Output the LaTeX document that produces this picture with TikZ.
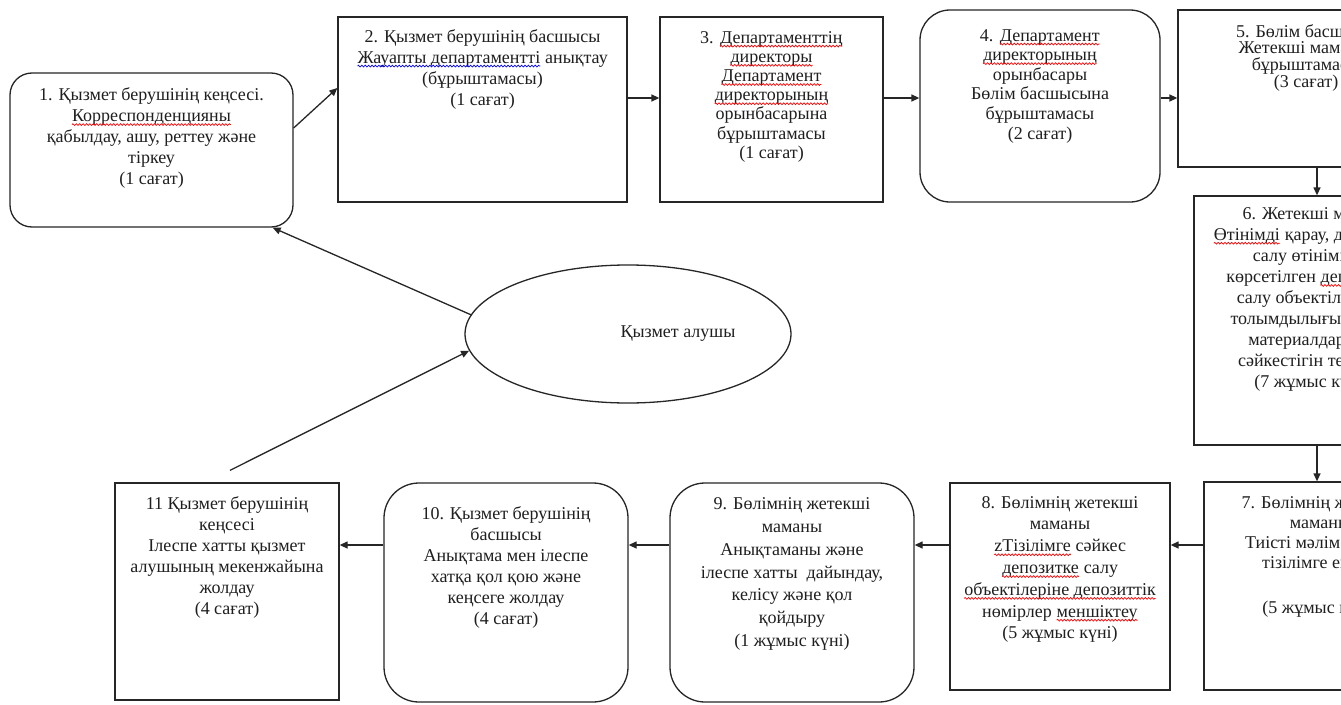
\documentclass[tikz,border=0pt]{standalone}
\usepackage{fontspec}
\setmainfont{Liberation Serif}
\usetikzlibrary{arrows.meta,shapes.geometric,calc,decorations.pathmorphing}
\newcommand\fz[1]{\fontsize{18}{#1}\selectfont}
\newcommand\sq[2]{\tikz[baseline=0pt]{\node[inner sep=0pt,outer sep=0pt,anchor=base west,draw=none,align=left] (sqw) at (0pt,0pt) {#2};\draw[#1,line width=0.7pt,decorate,decoration={zigzag,amplitude=0.9pt,segment length=3.4pt}] ([yshift=-3pt]sqw.base west) -- ([yshift=-3pt]sqw.base east);}}
\begin{document}
\begin{tikzpicture}[x=1pt,y=-1pt,
  ln/.style={draw=black!85,line width=1.3pt},
  sqbox/.style={ln,rectangle,inner sep=0pt},
  rbox/.style={sqbox,rounded corners=#1},
  lbl/.style={anchor=north,align=center,inner sep=0pt,font=\fz{#1},text=black!88},
  lbl/.default=21,
  arr/.style={ln,-{Triangle[length=8pt,width=7pt]}}]
\useasboundingbox (0,0) rectangle (1341,704);
\clip (0,0) rectangle (1341,704);
\fill[white] (0,0) rectangle (1341,704);

\node[rbox=22pt,minimum width=283pt,minimum height=154pt] (b1) at (151.5,150) {};
\node[lbl] (t1) at (151.5,87.5) {1. Қызмет берушінің кеңсесі.\\\sq{red}{Корреспонденцияны}\\қабылдау, ашу, реттеу және\\тіркеу\\(1 сағат)};

\node[sqbox,minimum width=289pt,minimum height=185pt] (b2) at (482.5,109.5) {};
\node[lbl] (t2) at (482.5,29) {2. Қызмет берушінің басшысы\\\sq{blue}{Жауапты департаментті} анықтау\\(бұрыштамасы)\\(1 сағат)};

\node[sqbox,minimum width=223pt,minimum height=185pt] (b3) at (771.5,109.5) {};
\node[lbl=19.2] (t3) at (771.5,31) {3. \sq{red}{Департаменттің}\\\sq{red}{директоры}\\\sq{red}{Департамент}\\\sq{red}{директорының}\\орынбасарына\\бұрыштамасы\\(1 сағат)};

\node[rbox=30pt,minimum width=240pt,minimum height=192pt] (b4) at (1040,106) {};
\node[lbl=19.6] (t4) at (1040,29) {4. \sq{red}{Департамент}\\\sq{red}{директорының}\\орынбасары\\Бөлім басшысына\\бұрыштамасы\\(2 сағат)};

\node[sqbox,minimum width=256pt,minimum height=157pt] (b5) at (1306,88.5) {};
\node[lbl=16.7] (t5) at (1306,24) {5. Бөлім басшысы\\Жетекші маманға\\бұрыштамасы\\(3 сағат)};

\node[sqbox,minimum width=236pt,minimum height=249pt] (b6) at (1312,320.5) {};
\node[lbl=21.1] (t6) at (1312,207) {6. Жетекші маман\\\sq{red}{Өтінімді} қарау, депозитке\\салу өтінімінде\\көрсетілген \sq{red}{депозитке}\\салу объектілерінің\\толымдылығын және\\материалдардың\\сәйкестігін тексеру\\(7 жұмыс күні)};

\node[sqbox,minimum width=232pt,minimum height=208pt] (b7) at (1320,586) {};
\node[lbl=20] (t7) at (1320,496) {7. Бөлімнің жетекші\\маманы\\Тиісті мәліметтерді\\тізілімге енгізу\\[25pt](5 жұмыс күні)};

\node[sqbox,minimum width=220pt,minimum height=207pt] (b8) at (1060,586.5) {};
\node[lbl=21.8] (t8) at (1060,496) {8. Бөлімнің жетекші\\маманы\\\sq{red}{zТізілімге} сәйкес\\\sq{red}{депозитке} салу\\\sq{red}{объектілеріне депозиттік}\\нөмірлер \sq{red}{меншіктеу}\\(5 жұмыс күні)};

\node[rbox=35pt,minimum width=244pt,minimum height=219pt] (b9) at (792,592.5) {};
\node[lbl=22.8] (t9) at (792,497.5) {9. Бөлімнің жетекші\\маманы\\Анықтаманы және\\ілеспе хатты\ \ дайындау,\\келісу және қол\\қойдыру\\(1 жұмыс күні)};

\node[rbox=35pt,minimum width=244pt,minimum height=219pt] (b10) at (506,592.5) {};
\node[lbl=21] (t10) at (506,506) {10. Қызмет берушінің\\басшысы\\Анықтама мен ілеспе\\хатқа қол қою және\\кеңсеге жолдау\\(4 сағат)};

\node[sqbox,minimum width=224pt,minimum height=217pt] (b11) at (227,591.5) {};
\node[lbl=21] (t11) at (227,496) {11 Қызмет берушінің\\кеңсесі\\Ілеспе хатты қызмет\\алушының мекенжайына\\жолдау\\(4 сағат)};

\node[ln,ellipse,minimum width=326pt,minimum height=138pt,inner sep=0pt] (e) at (628,334) {};
\node[font=\fz{21},text=black!88,inner sep=0pt] (te) at (678,334) {Қызмет алушы};

\coordinate (r1) at (0,98);
\coordinate (r2) at (0,545);
\coordinate (c1) at (1317,0);
\coordinate (s11) at ([shift={(3pt,12pt)}]b11.north);
\coordinate (e1) at ([xshift=-21pt]b1.south east);

\draw[arr] ([yshift=22pt]b1.east) -- ([yshift=21.5pt]b2.west);
\draw[arr] (b2.east |- r1) -- (b3.west |- r1);
\draw[arr] (b3.east |- r1) -- (b4.west |- r1);
\draw[arr] (b4.east |- r1) -- (b5.west |- r1);
\draw[arr] (b5.south -| c1) -- (b6.north -| c1);
\draw[arr] (b6.south -| c1) -- (b7.north -| c1);
\draw[arr] (b7.west |- r2) -- (b8.east |- r2);
\draw[arr] (b8.west |- r2) -- (b9.east |- r2);
\draw[arr] (b9.west |- r2) -- (b10.east |- r2);
\draw[arr] (b10.west |- r2) -- (b11.east |- r2);
\draw[arr] (s11) -- (e.186.5);
\draw[arr] (e.173.5) -- (e1);
\end{tikzpicture}
\end{document}
